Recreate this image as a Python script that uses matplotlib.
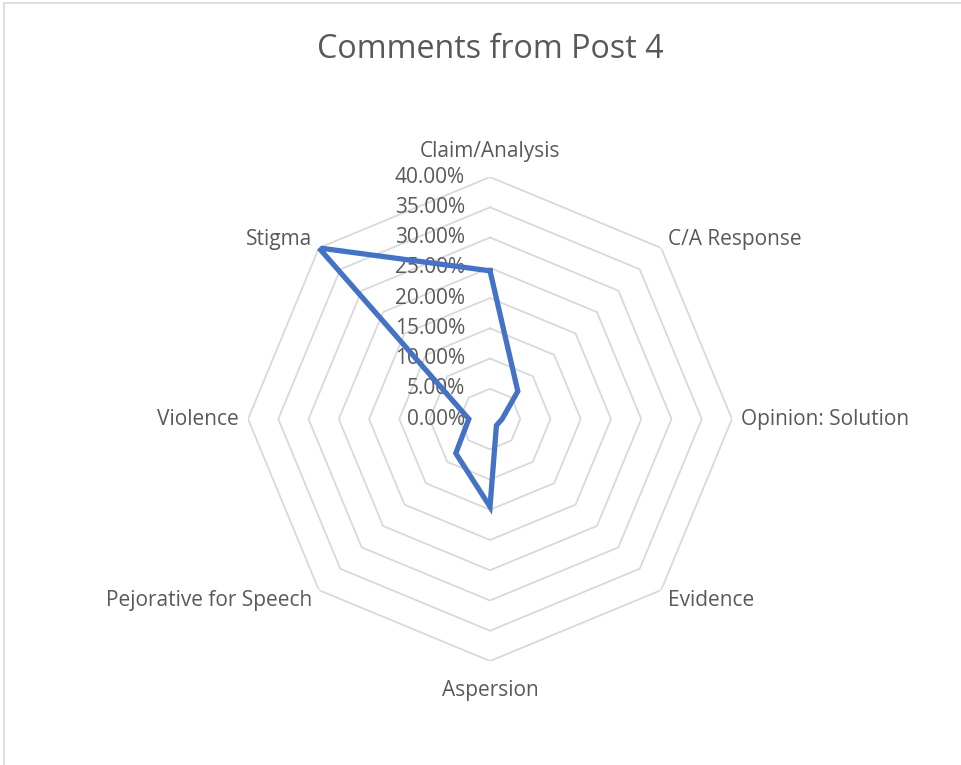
import numpy as np
import matplotlib.pyplot as plt
from matplotlib.patches import Rectangle

# Data
categories = ["Claim/Analysis", "C/A Response", "Opinion: Solution", "Evidence",
              "Aspersion", "Pejorative for Speech", "Violence", "Stigma"]
shares = [0.245, 0.065, 0.02, 0.015, 0.145, 0.08, 0.035, 0.40]
ring_levels = [0.0, 0.05, 0.10, 0.15, 0.20, 0.25, 0.30, 0.35, 0.40]
ring_labels = ["0.00%", "5.00%", "10.00%", "15.00%", "20.00%",
               "25.00%", "30.00%", "35.00%", "40.00%"]

plt.rcParams['font.family'] = ['Open Sans', 'DejaVu Sans']
text_color = "#595959"
grid_color = "#D9D9D9"
line_color = "#4472C4"

fig = plt.figure(figsize=(9.61, 7.65), dpi=100)

# chart area border
fig.patches.append(Rectangle((4 / 961, -0.01), 1.2, 1 - 3 / 765 + 0.01,
                             transform=fig.transFigure, fill=False,
                             edgecolor=grid_color, linewidth=1.2))

ax = fig.add_axes([0.2581, 0.1359, 0.5036, 0.6327], projection="polar")
ax.set_theta_offset(np.pi / 2)
ax.set_theta_direction(-1)
ax.set_ylim(0, 0.40)
ax.grid(False)
ax.spines["polar"].set_visible(False)
ax.set_xticks([])
ax.set_yticks([])
ax.patch.set_alpha(0)

n = len(categories)
angles = np.arange(n) * 2 * np.pi / n
closed = np.append(angles, angles[0])

# octagon gridlines
for r in ring_levels[1:]:
    ax.plot(closed, [r] * (n + 1), color=grid_color, linewidth=1.3, zorder=1)

# series
vals = shares + shares[:1]
ax.plot(closed, vals, color=line_color, linewidth=3.8, zorder=3,
        solid_joinstyle="miter")

# ring value labels on the top axis
for r, lab in zip(ring_levels, ring_labels):
    ax.annotate(lab, xy=(0, r), xytext=(-18, 0), textcoords="offset points",
                ha="right", va="center", fontsize=15, color=text_color, zorder=2)

# category labels
for a, lab in zip(angles, categories):
    s = np.sin(a)
    c = np.cos(a)
    ha = "center" if abs(s) < 0.01 else ("left" if s > 0 else "right")
    va = "center" if abs(c) < 0.01 else ("bottom" if c > 0 else "top")
    if abs(s) > 0.01 and abs(c) > 0.01:
        va = "center"
        dy = 8.1 * c if c > 0 else 10.2 * c
    else:
        dy = 11 * c if c > 0.99 else (14 * c if c < -0.99 else 0)
    ax.annotate(lab, xy=(a, 0.40), xytext=(6.5 * s, dy), textcoords="offset points",
                ha=ha, va=va, fontsize=15, color=text_color)

fig.suptitle("Comments from Post 4", x=0.51, y=0.957, fontsize=23.2, color=text_color)

fig.savefig("out.png", dpi=100)
